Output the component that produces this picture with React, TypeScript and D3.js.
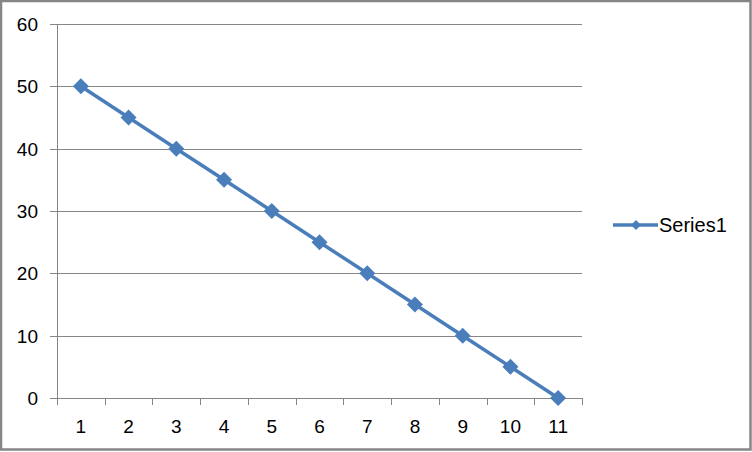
import React from "react";
import * as d3 from "d3";

const categories = ["1", "2", "3", "4", "5", "6", "7", "8", "9", "10", "11"];
const values = [50, 45, 40, 35, 30, 25, 20, 15, 10, 5, 0];
const yTicks = [0, 10, 20, 30, 40, 50, 60];
const seriesName = "Series1";

const W = 752;
const H = 452;
const left = 57;
const right = 582;
const top = 24;
const bottom = 398;
const color = "#4A7EBB";
const grid = "#868686";
const font = "'Liberation Sans', Arial, sans-serif";

export default function App() {
  const x = d3.scaleBand<string>().domain(categories).range([left, right]);
  const y = d3.scaleLinear().domain([0, 60]).range([bottom, top]);
  const line = d3
    .line<number>()
    .x((_, i) => (x(categories[i]) as number) + x.bandwidth() / 2)
    .y((d) => y(d));
  const diamond = (cx: number, cy: number, r: number) =>
    `M${cx},${cy - r}L${cx + r},${cy}L${cx},${cy + r}L${cx - r},${cy}Z`;
  const bounds = [...categories.map((c) => x(c) as number), right];

  return (
    <svg
      width={W}
      height={H}
      style={{ position: "absolute", left: 0, top: 0, background: "#fff" }}
    >
      <rect x={0} y={0} width={W} height={H} fill="#fff" />
      <rect x={1} y={1} width={749.5} height={448.5} fill="none" stroke={grid} strokeWidth={2.5} />
      {yTicks.map((t) => (
        <g key={t}>
          <line x1={50} x2={right} y1={Math.round(y(t)) + 0.5} y2={Math.round(y(t)) + 0.5} stroke={grid} />
          <text x={38} y={y(t) + 7} textAnchor="end" fontFamily={font} fontSize={19} fill="#000">
            {t}
          </text>
        </g>
      ))}
      <line x1={left + 0.5} x2={left + 0.5} y1={top} y2={bottom + 7} stroke={grid} />
      {bounds.map((b, i) => (
        <line key={i} x1={Math.round(b) + 0.5} x2={Math.round(b) + 0.5} y1={bottom} y2={bottom + 7} stroke={grid} />
      ))}
      {categories.map((c) => (
        <text key={c} x={(x(c) as number) + x.bandwidth() / 2} y={433} textAnchor="middle" fontFamily={font} fontSize={19} fill="#000">
          {c}
        </text>
      ))}
      <path d={line(values) || ""} fill="none" stroke={color} strokeWidth={3.5} strokeLinejoin="round" />
      {values.map((v, i) => (
        <path key={i} d={diamond((x(categories[i]) as number) + x.bandwidth() / 2, y(v), 8)} fill={color} />
      ))}
      <line x1={613} x2={658} y1={225} y2={225} stroke={color} strokeWidth={3.5} />
      <path d={diamond(636, 225, 5)} fill={color} />
      <text x={659} y={232} fontFamily={font} fontSize={20} fill="#000">
        {seriesName}
      </text>
    </svg>
  );
}
